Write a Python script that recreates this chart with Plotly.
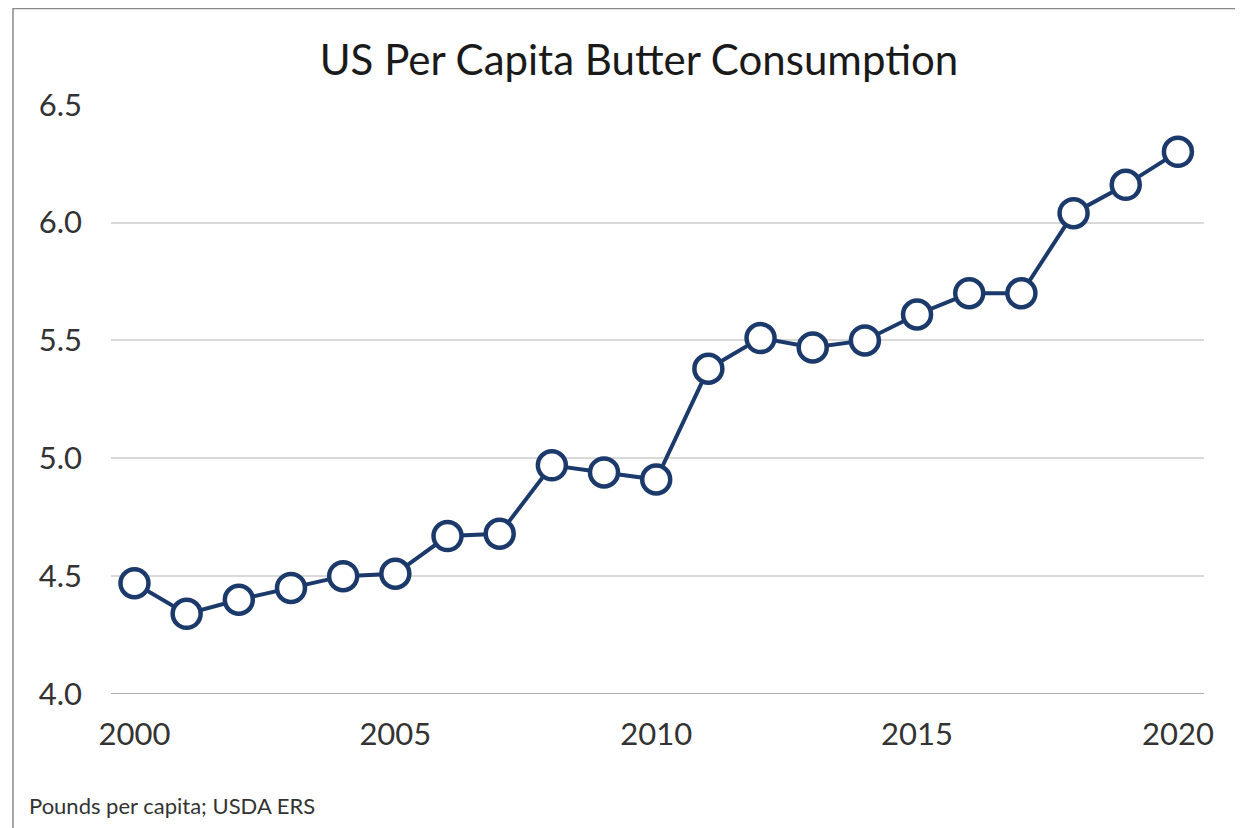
import plotly.graph_objects as go

years = list(range(2000, 2021))
consumption = [4.47, 4.34, 4.40, 4.45, 4.50, 4.51, 4.67, 4.68, 4.97, 4.94, 4.91,
               5.38, 5.51, 5.47, 5.50, 5.61, 5.70, 5.70, 6.04, 6.16, 6.30]
x_ticks = [2000, 2005, 2010, 2015, 2020]
y_ticks = [4.0, 4.5, 5.0, 5.5, 6.0, 6.5]
title_text = "US Per Capita Butter Consumption"
source_text = "Pounds per capita; USDA ERS"

navy = "#1b3a6b"
text_color = "#333333"

L, T, W, H = 103, 96, 1093, 590

fig = go.Figure()
fig.add_trace(go.Scatter(
    x=years, y=consumption, mode="lines+markers",
    line=dict(color=navy, width=4),
    marker=dict(size=28, color="white", line=dict(color=navy, width=4.5)),
    cliponaxis=False, hoverinfo="x+y", showlegend=False,
))

fig.update_layout(
    width=1243, height=828,
    paper_bgcolor="white", plot_bgcolor="white",
    margin=dict(l=L, r=1243 - L - W, t=T, b=828 - T - H),
    font=dict(family="Lato, 'Open Sans', sans-serif", color=text_color, size=31),
    title=dict(text=title_text, x=631 / 1243, xanchor="center", y=1 - 52 / 828, yanchor="middle",
               font=dict(size=42, color="#1a1a1a")),
    xaxis=dict(range=[1999.55, 2020.5], tickvals=x_ticks, ticktext=[str(v) for v in x_ticks],
               showgrid=False, zeroline=False, showline=False, ticks="",
               ticklabelstandoff=19, tickfont=dict(size=31, color=text_color)),
    yaxis=dict(range=[4.0, 6.503], tickvals=y_ticks, ticktext=[f"{v:.1f}" for v in y_ticks],
               showgrid=True, gridcolor="#d9d9d9", gridwidth=1.5, zeroline=False,
               showline=False, ticks="", ticklabelstandoff=28,
               tickfont=dict(size=31, color=text_color)),
    shapes=[
        dict(type="line", xref="paper", yref="y", x0=0, x1=1, y0=4.0, y1=4.0,
             line=dict(color="#8c8c8c", width=1.5)),
        dict(type="rect", xref="paper", yref="paper",
             x0=(5 - L) / W, x1=1.3, y0=-1.0, y1=(H + T - 0.5) / H,
             line=dict(color="#8a8a8a", width=1.5), fillcolor="rgba(0,0,0,0)", layer="below"),
    ],
    annotations=[
        dict(text=source_text, xref="paper", yref="paper",
             x=(19 - L) / W, y=-(797 - 686) / H, xanchor="left", yanchor="middle",
             showarrow=False, font=dict(size=22, color=text_color)),
    ],
)

fig.write_html("out.html")
